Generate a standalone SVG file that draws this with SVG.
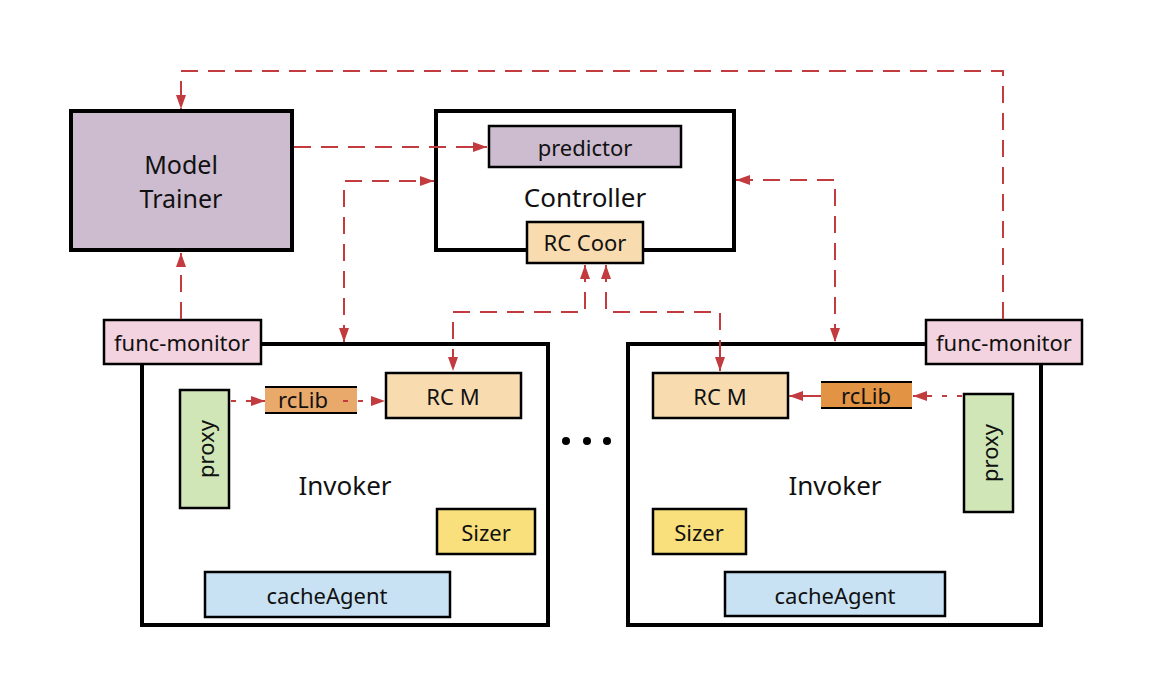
<svg xmlns="http://www.w3.org/2000/svg" width="1174" height="692" viewBox="0 0 1174 692">
<defs>
<style>
text{font-family:"Noto Sans","Open Sans","DejaVu Sans",sans-serif;fill:#111;text-anchor:middle;dominant-baseline:central}
.big{font-size:26px}
.mt{font-size:25px}
.sm{font-size:22px}
.heavy{fill:#fff;stroke:#000;stroke-width:4}
.thin{stroke:#000;stroke-width:2.5}
.conn{fill:none;stroke:#C23B3F;stroke-width:2;stroke-dasharray:17 10}
.dot{fill:none;stroke:#C23B3F;stroke-width:2;stroke-dasharray:5 10}
.solid{fill:none;stroke:#C23B3F;stroke-width:2}
</style>
<marker id="ah" viewBox="0 0 14 10" refX="14" refY="5" markerWidth="14" markerHeight="10" markerUnits="userSpaceOnUse" orient="auto-start-reverse">
<path d="M0,0 L14,5 L0,10 z" fill="#C23B3F"/>
</marker>
</defs>
<rect width="1174" height="692" fill="#fff"/>

<g id="model-trainer">
<rect x="71" y="111" width="221" height="139" fill="#CDBCD0" stroke="#000" stroke-width="4"/>
<text class="mt" x="181" y="164">Model</text>
<text class="mt" x="181" y="198">Trainer</text>
</g>

<g id="controller">
<rect class="heavy" x="436" y="111" width="298" height="139"/>
<text class="big" x="585" y="197">Controller</text>
</g>
<g id="predictor">
<rect class="thin" x="489" y="126" width="192" height="41" fill="#CDBCD0"/>
<text class="sm" x="585" y="147">predictor</text>
</g>
<g id="rc-coor">
<rect class="thin" x="527" y="222" width="116" height="41" fill="#F8DCB0"/>
<text class="sm" x="585" y="242">RC Coor</text>
</g>

<g id="invoker-left">
<rect class="heavy" x="142" y="344" width="406" height="281"/>
<text class="big" x="345" y="485">Invoker</text>
</g>
<g id="func-monitor-left">
<rect class="thin" x="104" y="320" width="157" height="44" fill="#F3D3DF"/>
<text class="sm" x="182" y="342">func-monitor</text>
</g>
<g id="proxy-left">
<rect class="thin" x="180" y="390" width="49" height="118" fill="#D0E6B6"/>
<text class="sm" transform="translate(205,449) rotate(-90)">proxy</text>
</g>
<g id="rclib-left">
<rect x="265" y="387" width="92" height="26" fill="#E9A96B"/>
<line x1="265" y1="387" x2="357" y2="387" stroke="#000" stroke-width="2"/>
<line x1="265" y1="413" x2="357" y2="413" stroke="#000" stroke-width="2"/>
<text class="sm" x="303" y="399">rcLib</text>
</g>
<g id="rcm-left">
<rect class="thin" x="386" y="373" width="135" height="45" fill="#F8DCB0"/>
<text class="sm" x="453" y="396">RC M</text>
</g>
<g id="sizer-left">
<rect class="thin" x="437" y="509" width="98" height="45" fill="#F9E07C"/>
<text class="sm" x="486" y="532">Sizer</text>
</g>
<g id="cacheagent-left">
<rect class="thin" x="205" y="572" width="245" height="45" fill="#C8E2F4"/>
<text class="sm" x="327" y="595">cacheAgent</text>
</g>

<g id="ellipsis">
<circle cx="566" cy="441" r="4" fill="#000"/>
<circle cx="587" cy="441" r="4" fill="#000"/>
<circle cx="607" cy="441" r="4" fill="#000"/>
</g>

<g id="invoker-right">
<rect class="heavy" x="628" y="344" width="413" height="281"/>
<text class="big" x="835" y="485">Invoker</text>
</g>
<g id="func-monitor-right">
<rect class="thin" x="926" y="320" width="156" height="44" fill="#F3D3DF"/>
<text class="sm" x="1004" y="342">func-monitor</text>
</g>
<g id="rcm-right">
<rect class="thin" x="653" y="373" width="135" height="45" fill="#F8DCB0"/>
<text class="sm" x="720" y="396">RC M</text>
</g>
<g id="rclib-right">
<rect x="821" y="382" width="91" height="26" fill="#E29343"/>
<line x1="821" y1="382" x2="912" y2="382" stroke="#000" stroke-width="2"/>
<line x1="821" y1="408" x2="912" y2="408" stroke="#000" stroke-width="2"/>
<text class="sm" x="866" y="395">rcLib</text>
</g>
<g id="proxy-right">
<rect class="thin" x="964" y="394" width="49" height="118" fill="#D0E6B6"/>
<text class="sm" transform="translate(989,453) rotate(-90)">proxy</text>
</g>
<g id="sizer-right">
<rect class="thin" x="653" y="509" width="93" height="45" fill="#F9E07C"/>
<text class="sm" x="699" y="532">Sizer</text>
</g>
<g id="cacheagent-right">
<rect class="thin" x="725" y="572" width="220" height="44" fill="#C8E2F4"/>
<text class="sm" x="835" y="595">cacheAgent</text>
</g>

<g id="connectors">
<path class="conn" d="M1003,319 V71 H181 V109" marker-end="url(#ah)"/>
<path class="conn" d="M181,319 V253" marker-end="url(#ah)"/>
<path class="conn" d="M294,147 H487" marker-end="url(#ah)"/>
<path class="conn" d="M344,342 V181 H434" marker-start="url(#ah)" marker-end="url(#ah)"/>
<path class="conn" d="M736,180 H835 V342" marker-start="url(#ah)" marker-end="url(#ah)"/>
<path class="conn" d="M585,265 V312 H453 V371" marker-start="url(#ah)" marker-end="url(#ah)"/>
<path class="conn" d="M606,265 V312 H720 V371" marker-start="url(#ah)" marker-end="url(#ah)"/>
<path class="dot" d="M231,401 H265" marker-end="url(#ah)"/>
<path class="dot" d="M343,401 H385" marker-end="url(#ah)"/>
<path class="dot" d="M962,396 H913" marker-end="url(#ah)"/>
<path class="solid" d="M821,396 H789" marker-end="url(#ah)"/>
</g>
</svg>
